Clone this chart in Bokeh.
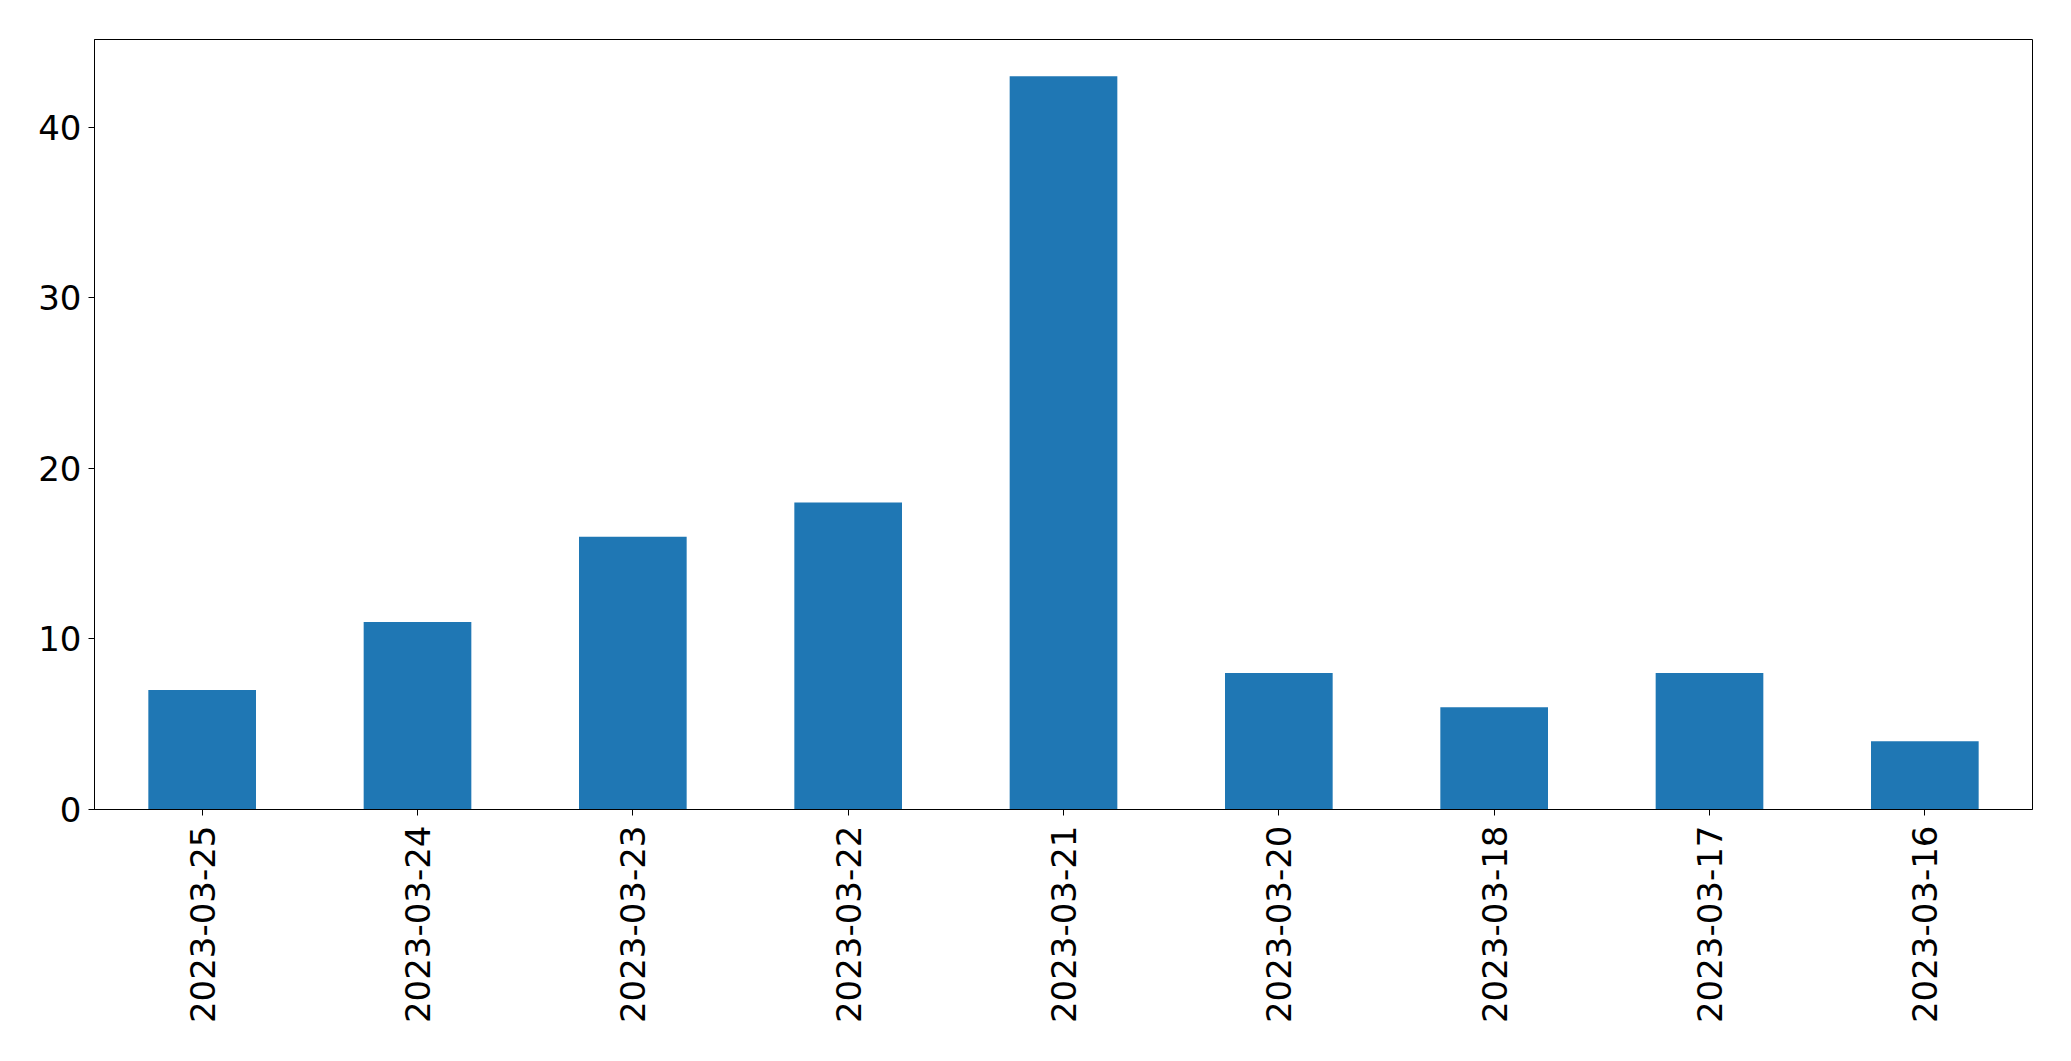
import math
from bokeh.plotting import figure
from bokeh.models import Range1d, FixedTicker, ColumnDataSource
from bokeh.embed import file_html
from bokeh.resources import INLINE

dates = ["2023-03-25", "2023-03-24", "2023-03-23", "2023-03-22", "2023-03-21",
         "2023-03-20", "2023-03-18", "2023-03-17", "2023-03-16"]
counts = [7, 11, 16, 18, 43, 8, 6, 8, 4]
y_ticks = [0, 10, 20, 30, 40]

source = ColumnDataSource(data=dict(dates=dates, counts=counts))

p = figure(x_range=dates, y_range=Range1d(0, max(counts) * 1.05),
           width=2050, height=1040, output_backend="svg", toolbar_location=None,
           min_border_left=94, min_border_top=39, min_border_right=18, min_border_bottom=231)

p.vbar(x="dates", top="counts", width=0.5, source=source,
       fill_color="#1f77b4", line_color=None)

p.x_range.range_padding = 0
p.xgrid.visible = False
p.ygrid.visible = False
p.outline_line_color = "black"
p.outline_line_width = 1
p.background_fill_color = "white"
p.border_fill_color = "white"

for ax in (p.xaxis[0], p.yaxis[0]):
    ax.axis_line_color = "black"
    ax.major_tick_line_color = "black"
    ax.major_tick_out = 6
    ax.major_tick_in = 0
    ax.minor_tick_line_color = None
    ax.major_label_text_font = "DejaVu Sans"
    ax.major_label_text_font_size = "34px"
    ax.major_label_text_color = "black"

p.yaxis[0].ticker = FixedTicker(ticks=y_ticks)
p.yaxis[0].major_label_standoff = 7
p.xaxis[0].major_label_orientation = math.pi / 2
p.xaxis[0].major_label_standoff = 10

open("out.html", "w").write(file_html(p, INLINE))
